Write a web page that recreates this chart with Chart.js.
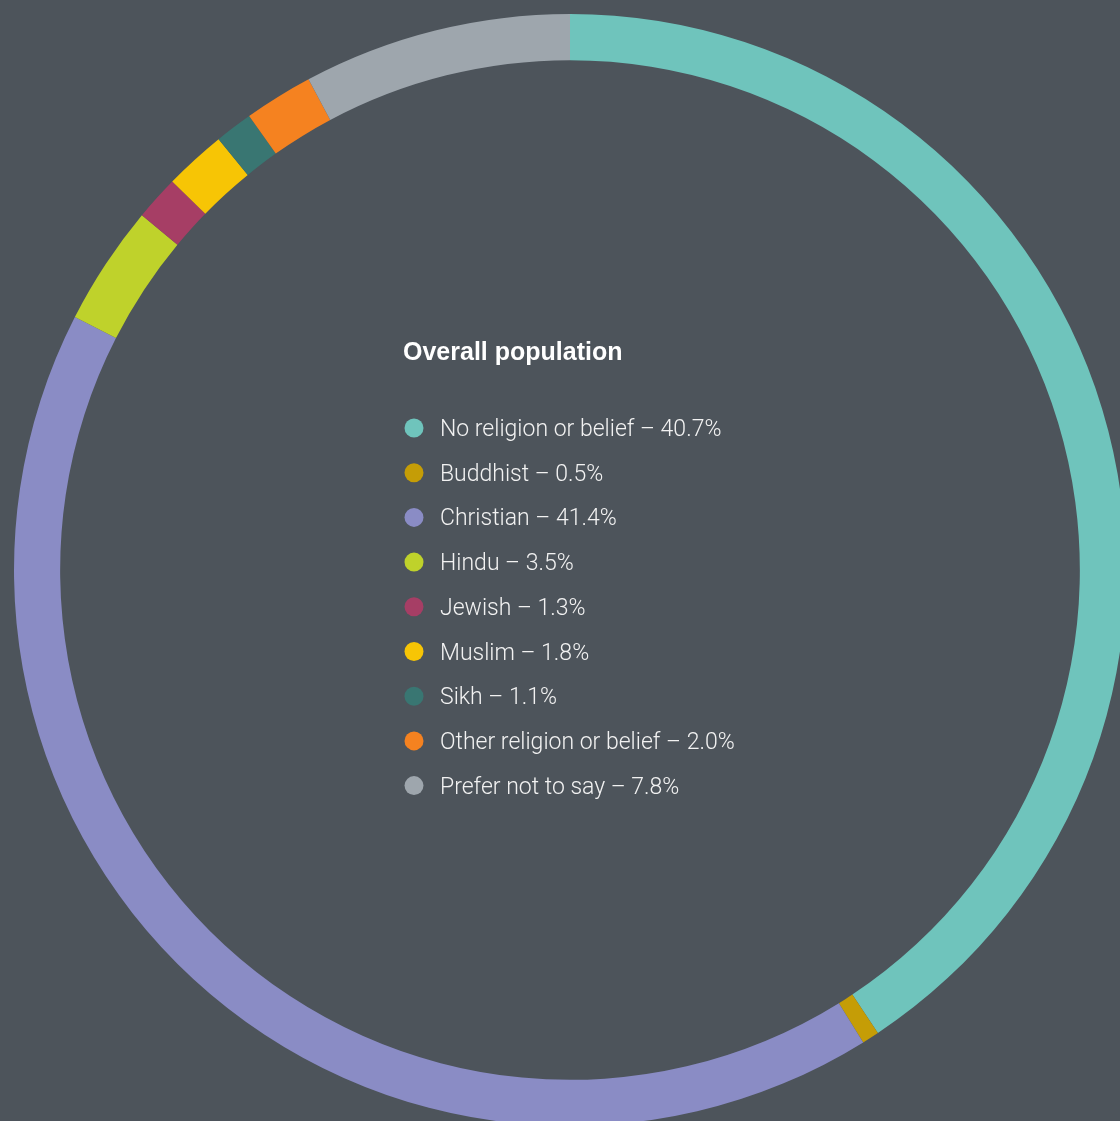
<!DOCTYPE html>
<html>
<head>
<meta charset="utf-8">
<script src="https://cdn.jsdelivr.net/npm/chart.js@4"></script>
<style>
  html, body { margin: 0; padding: 0; background: #4d545b; overflow: hidden; }
  #wrap { width: 1120px; height: 1121px; overflow: hidden; position: relative; }
  canvas { position: absolute; left: 0; top: 0; }
</style>
</head>
<body>
<div id="wrap"><canvas id="donut" width="1140" height="1140"></canvas></div>
<script>
const labels = ['No religion or belief', 'Buddhist', 'Christian', 'Hindu', 'Jewish', 'Muslim', 'Sikh', 'Other religion or belief', 'Prefer not to say']
const shares = [40.7, 0.5, 41.4, 3.5, 1.3, 1.8, 1.1, 2.0, 7.8]
const colours = ['#6fc4bc', '#c59d06', '#8a8cc5', '#bfd22b', '#a63e65', '#f7c505', '#397672', '#f58220', '#9ea6ad']
const title = 'Overall population'

// legend drawn in the hole of the ring
const centreLegend = {
    id: 'centreLegend',
    afterDraw(chart) {
        const ctx = chart.ctx
        ctx.save()
        ctx.textBaseline = 'alphabetic'
        ctx.fillStyle = '#ffffff'
        ctx.font = 'bold 25px "Liberation Sans", Arial, sans-serif'
        ctx.fillText(title, 403, 360)
        ctx.font = '300 23px Roboto, "Liberation Sans", sans-serif'
        labels.forEach((lab, i) => {
            const y = 428 + i * 44.7
            ctx.fillStyle = colours[i]
            ctx.beginPath()
            ctx.arc(414, y, 9.5, 0, Math.PI * 2)
            ctx.fill()
            ctx.fillStyle = '#f2f2f2'
            ctx.fillText(lab + ' \u2013 ' + shares[i].toFixed(1) + '%', 440, y + 8)
        })
        ctx.restore()
    }
}

const donut = new Chart(document.getElementById('donut').getContext('2d'), {
    type: 'doughnut',
    data: {
        labels: labels,
        datasets: [{
            data: shares,
            backgroundColor: colours,
            borderWidth: 0
        }]
    },
    options: {
        responsive: false,
        animation: false,
        cutout: '91.7%',
        layout: { padding: 14 },
        plugins: {
            legend: { display: false },
            tooltip: { enabled: false }
        }
    },
    plugins: [centreLegend]
})
</script>
</body>
</html>
